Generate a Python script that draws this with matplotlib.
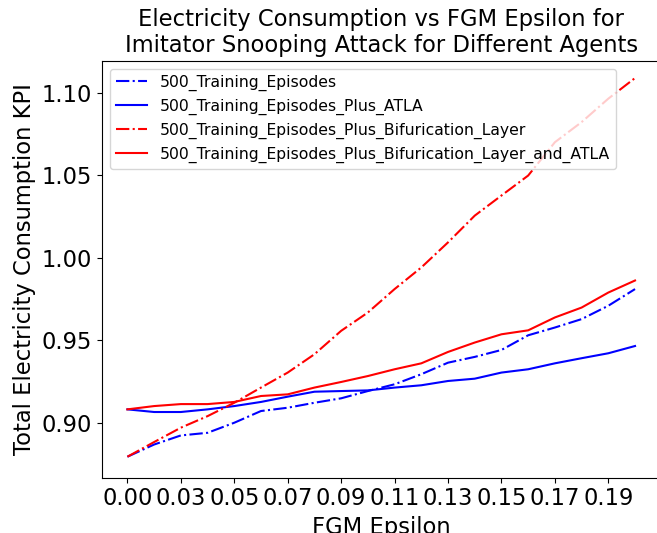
import numpy as np
import matplotlib
matplotlib.use("Agg")
import matplotlib.pyplot as plt

# FGM epsilon tick labels (one label every second step)
eps_labels = ["0.00", "0.03", "0.05", "0.07", "0.09", "0.11", "0.13", "0.15", "0.17", "0.19"]
steps = np.arange(20)

kpi_base = [0.8794, 0.8868, 0.8923, 0.8939, 0.9000, 0.9071, 0.9091, 0.9121, 0.9148, 0.9192,
            0.9233, 0.9294, 0.9364, 0.9399, 0.9441, 0.9530, 0.9577, 0.9628, 0.9709, 0.9810]
kpi_atla = [0.9081, 0.9065, 0.9065, 0.9081, 0.9101, 0.9126, 0.9158, 0.9188, 0.9192, 0.9196,
            0.9213, 0.9227, 0.9253, 0.9267, 0.9304, 0.9324, 0.9360, 0.9391, 0.9421, 0.9465]
kpi_bif = [0.8794, 0.8883, 0.8970, 0.9040, 0.9121, 0.9213, 0.9304, 0.9415, 0.9557, 0.9668,
           0.9810, 0.9941, 1.0093, 1.0255, 1.0377, 1.0498, 1.0700, 1.0822, 1.0964, 1.1089]
kpi_bif_atla = [0.9081, 0.9101, 0.9113, 0.9113, 0.9126, 0.9162, 0.9172, 0.9213, 0.9247, 0.9283,
                0.9324, 0.9360, 0.9429, 0.9486, 0.9536, 0.9560, 0.9638, 0.9698, 0.9789, 0.9862]

fig = plt.figure(figsize=(6.57, 5.33), dpi=100)
ax = fig.add_axes([0.1553, 0.1041, 0.8499, 0.7820])

ax.plot(steps, kpi_base, "-.", color="blue", label="500_Training_Episodes")
ax.plot(steps, kpi_atla, "-", color="blue", label="500_Training_Episodes_Plus_ATLA")
ax.plot(steps, kpi_bif, "-.", color="red", label="500_Training_Episodes_Plus_Bifurication_Layer")
ax.plot(steps, kpi_bif_atla, "-", color="red",
        label="500_Training_Episodes_Plus_Bifurication_Layer_and_ATLA")

ax.set_xticks(steps[::2])
ax.set_xticklabels(eps_labels)
ax.set_yticks([0.90, 0.95, 1.00, 1.05, 1.10])
ax.set_ylim(0.8668, 1.1194)
ax.tick_params(labelsize=16.3)

ax.set_xlabel("FGM Epsilon", fontsize=16.3)
ax.set_ylabel("Total Electricity Consumption KPI", fontsize=16.3)
ax.set_title("Electricity Consumption vs FGM Epsilon for\n"
             "Imitator Snooping Attack for Different Agents", fontsize=16.3)
ax.legend(loc="upper left", fontsize=11.25)

fig.savefig("out.png", dpi=100)
